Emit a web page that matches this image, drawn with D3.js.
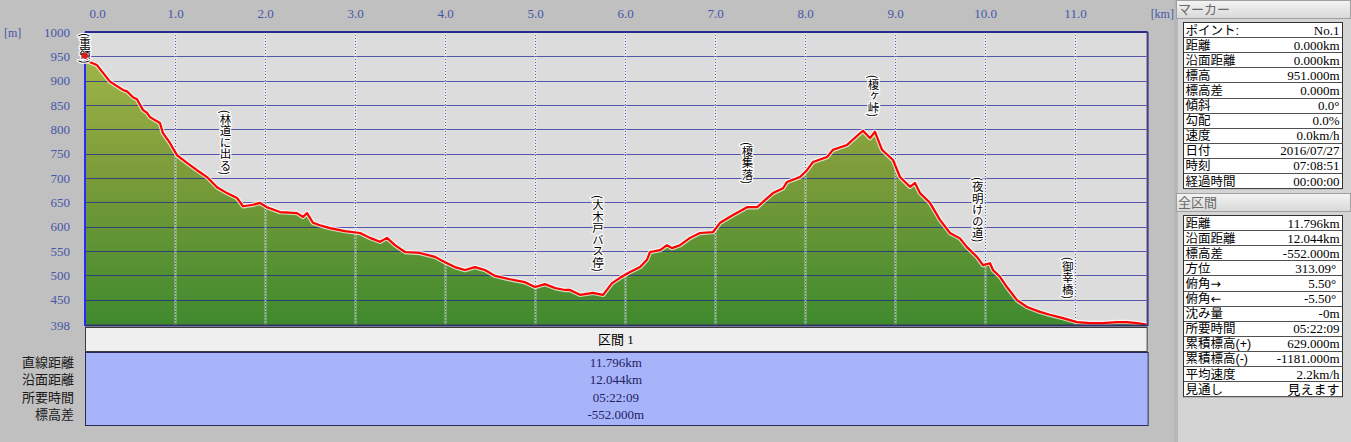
<!DOCTYPE html>
<html><head><meta charset="utf-8">
<script src="https://cdn.jsdelivr.net/npm/d3@7"></script>
<style>
html,body{margin:0;padding:0;background:#c0c0c0;overflow:hidden;}
svg{display:block;}
</style></head><body>
<svg id="c" width="1351" height="442"></svg>
<script>
// ---------------- data ----------------
const distKm = [0.000,0.033,0.133,0.278,0.422,0.467,0.533,0.578,0.644,0.689,0.722,0.833,0.867,0.944,1.022,1.133,1.244,1.356,1.467,1.578,1.689,1.756,1.867,1.944,2.022,2.167,2.356,2.422,2.467,2.533,2.611,2.722,2.889,3.056,3.167,3.278,3.356,3.444,3.556,3.722,3.889,4.000,4.111,4.222,4.333,4.444,4.556,4.722,4.889,5.000,5.111,5.222,5.333,5.389,5.500,5.644,5.756,5.856,5.944,6.056,6.167,6.244,6.278,6.389,6.467,6.522,6.611,6.722,6.833,6.978,7.056,7.200,7.356,7.467,7.533,7.644,7.756,7.800,7.944,8.022,8.089,8.244,8.311,8.467,8.611,8.644,8.722,8.778,8.856,8.978,9.056,9.167,9.222,9.278,9.389,9.500,9.611,9.722,9.800,9.911,9.978,10.056,10.089,10.167,10.244,10.356,10.467,10.611,10.722,10.867,11.022,11.167,11.311,11.467,11.578,11.689,11.796];
const elevM  = [951,940,932,898,881,878,866,862,840,834,825,813,792,772,747,731,716,702,681,669,659,642,645,649,640,630,628,620,628,608,603,597,591,587,577,569,577,562,548,546,538,527,517,511,517,511,499,492,486,476,482,474,470,470,460,464,460,484,495,507,517,532,548,552,562,556,562,577,587,589,608,624,640,640,651,669,679,692,702,716,733,743,758,768,792,797,782,795,758,737,702,682,690,669,649,614,587,576,558,538,521,525,511,497,476,449,435,425,419,412,404,402,402,404,404,402,399];

const xTicks = [0,1,2,3,4,5,6,7,8,9,10,11];
const yTicks = [398,450,500,550,600,650,700,750,800,850,900,950,1000];
const xDomain = [0, 11.796];
const yDomain = [398, 1000];

const landmarkNames = ["(重嶺)","(林道に出る)","(大木戸バス停)","(榎集落)","(榎ヶ峠)","(夜明けの道)","(御幸橋)"];
const landmarkKm    = [0.0, 1.56, 5.70, 7.36, 8.76, 9.92, 10.92];
const landmarkTopM  = [998, 840, 665, 774, 912, 702, 538];

const markerKm = [0.0];
const markerElev = [951];

const sectionTitle = "区間 1";
const summaryLabels = ["直線距離","沿面距離","所要時間","標高差"];
const summaryValues = ["11.796km","12.044km","05:22:09","-552.000m"];

const markerTitle = "マーカー";
const markerLabels = ["ポイント:","距離","沿面距離","標高","標高差","傾斜","勾配","速度","日付","時刻","経過時間"];
const markerValues = ["No.1","0.000km","0.000km","951.000m","0.000m","0.0°","0.0%","0.0km/h","2016/07/27","07:08:51","00:00:00"];

const totalTitle = "全区間";
const totalLabels = ["距離","沿面距離","標高差","方位","俯角→","俯角←","沈み量","所要時間","累積標高(+)","累積標高(-)","平均速度","見通し"];
const totalValues = ["11.796km","12.044km","-552.000m","313.09° ","5.50° ","-5.50° ","-0m","05:22:09","629.000m","-1181.000m","2.2km/h","見えます"];

// ---------------- layout ----------------
const svg = d3.select("#c");
const L = 85, R = 85 + 90*11.796, T = 32, B = 325;
const x = d3.scaleLinear().domain(xDomain).range([L, R]);
const y = d3.scaleLinear().domain(yDomain).range([B, T]);
const serif = '"Liberation Serif","Noto Sans CJK JP",serif';
const gothic = '"Liberation Sans","Noto Sans CJK JP",sans-serif';
const cjk = '"Noto Sans CJK JP",sans-serif';

svg.append("rect").attr("width",1351).attr("height",442).attr("fill","#c0c0c0");

const defs = svg.append("defs");
const g1 = defs.append("linearGradient").attr("id","fillG").attr("gradientUnits","userSpaceOnUse")
  .attr("x1",0).attr("x2",0).attr("y1",y(1000)).attr("y2",y(398));
g1.append("stop").attr("offset","0%").attr("stop-color","#a6bb4c");
g1.append("stop").attr("offset","45%").attr("stop-color","#7f9d3a");
g1.append("stop").attr("offset","100%").attr("stop-color","#3f8a2e");
const g2 = defs.append("linearGradient").attr("id","hdrG").attr("x1",0).attr("x2",0).attr("y1",0).attr("y2",1);
g2.append("stop").attr("offset","0%").attr("stop-color","#f4f4f4");
g2.append("stop").attr("offset","100%").attr("stop-color","#d8d8d8");
defs.append("clipPath").attr("id","plotClip").append("rect")
  .attr("x",L).attr("y",T).attr("width",R-L).attr("height",B-T);

// plot background
svg.append("rect").attr("x",L).attr("y",T).attr("width",R-L).attr("height",B-T).attr("fill","#dcdcdc");

const plot = svg.append("g").attr("clip-path","url(#plotClip)");
const pts = distKm.map((d,i)=>[d, elevM[i]]);
plot.append("path").datum(pts)
  .attr("d", d3.area().x(d=>x(d[0])).y0(y(398)).y1(d=>y(d[1])))
  .attr("fill","url(#fillG)");

// grid lines
plot.selectAll(".hg").data(yTicks.filter(v=>v>398 && v<1000)).join("line")
  .attr("x1",L).attr("x2",R).attr("y1",d=>Math.round(y(d))+0.5).attr("y2",d=>Math.round(y(d))+0.5)
  .attr("stroke","#1c1c96").attr("stroke-opacity",0.7).attr("stroke-width",1);
plot.selectAll(".vg").data(xTicks.filter(v=>v>0)).join("line")
  .attr("x1",d=>Math.round(x(d))+0.5).attr("x2",d=>Math.round(x(d))+0.5).attr("y1",T).attr("y2",B)
  .attr("stroke","#ffffff").attr("stroke-opacity",0.45).attr("stroke-width",2);
plot.selectAll(".vg2").data(xTicks.filter(v=>v>0)).join("line")
  .attr("x1",d=>Math.round(x(d))+0.5).attr("x2",d=>Math.round(x(d))+0.5).attr("y1",T).attr("y2",B)
  .attr("stroke","#5a5aa8").attr("stroke-dasharray","1,2").attr("stroke-width",1);

// profile line
const line = d3.line().x(d=>x(d[0])).y(d=>y(d[1]));
plot.append("path").datum(pts).attr("d",line).attr("fill","none")
  .attr("stroke","#ffffff").attr("stroke-opacity",0.7).attr("stroke-width",4.5).attr("stroke-linejoin","round");
plot.append("path").datum(pts).attr("d",line).attr("fill","none")
  .attr("stroke","#ff0000").attr("stroke-width",2.2).attr("stroke-linejoin","round");

// borders
svg.append("line").attr("x1",L).attr("x2",R+1).attr("y1",T).attr("y2",T).attr("stroke","#2a2a8a").attr("stroke-width",2);
svg.append("line").attr("x1",R+1).attr("x2",R+1).attr("y1",T).attr("y2",B+1).attr("stroke","#4a3a8a").attr("stroke-width",2);
svg.append("line").attr("x1",L).attr("x2",R+1).attr("y1",B+0.5).attr("y2",B+0.5).attr("stroke","#30306a").attr("stroke-width",2);
svg.append("line").attr("x1",L).attr("x2",L).attr("y1",T).attr("y2",B+1).attr("stroke","#2a2aff").attr("stroke-width",2);

// landmark labels (vertical)
svg.selectAll(".lm").data(landmarkNames).join("text")
  .attr("x",(d,i)=>x(landmarkKm[i])).attr("y",(d,i)=>y(landmarkTopM[i]))
  .attr("style","writing-mode:vertical-rl;")
  .attr("font-family",cjk).attr("font-size",11.5).attr("fill","#000")
  .attr("stroke","#ffffff").attr("stroke-width",2.5).attr("paint-order","stroke")
  .attr("stroke-linejoin","round")
  .text(d=>d);

// marker
svg.selectAll(".mk").data(markerKm).join("circle")
  .attr("cx",d=>x(d)).attr("cy",(d,i)=>y(markerElev[i])).attr("r",3).attr("fill","#e01818");

// axes
const axTop = svg.append("g").attr("transform",`translate(0,${T-10})`)
  .call(d3.axisTop(x).tickValues(xTicks).tickSize(0).tickFormat(d3.format(".1f")));
axTop.select(".domain").remove();
axTop.selectAll("text").attr("font-family",serif).attr("font-size",13).attr("fill","#4656a8")
  .attr("dy","-0.1em")
  .filter(d=>d===0).attr("text-anchor","start").attr("dx",4);
const axLeft = svg.append("g").attr("transform",`translate(${L-10},0)`)
  .call(d3.axisLeft(y).tickValues(yTicks).tickSize(0).tickFormat(d3.format("d")));
axLeft.select(".domain").remove();
axLeft.selectAll("text").attr("font-family",serif).attr("font-size",13).attr("fill","#4656a8").attr("dx",-2);
svg.append("text").attr("x",4).attr("y",T+5).attr("font-family",serif).attr("font-size",12).attr("fill","#4656a8").text("[m]");
svg.append("text").attr("x",R+4).attr("y",T-14).attr("font-family",serif).attr("font-size",12).attr("fill","#4656a8").text("[km]");

// section header & summary table
svg.append("rect").attr("x",L+0.5).attr("y",327.5).attr("width",R-L).attr("height",24).attr("fill","#efefef").attr("stroke","#3a3a3a");
svg.append("text").attr("x",(L+R)/2).attr("y",344).attr("text-anchor","middle")
  .attr("font-family",serif).attr("font-size",13).attr("fill","#000").text(sectionTitle);
svg.append("rect").attr("x",L+0.5).attr("y",352.5).attr("width",R-L+1).attr("height",73).attr("fill","#a8b4fa").attr("stroke","#2a2a5a");
const rowY = d3.scalePoint().domain(d3.range(summaryLabels.length)).range([367, 419]);
svg.selectAll(".sl").data(summaryLabels).join("text")
  .attr("x",74).attr("y",(d,i)=>rowY(i)).attr("text-anchor","end")
  .attr("font-family",gothic).attr("font-size",13).attr("fill","#1a1a1a").text(d=>d);
svg.selectAll(".sv").data(summaryValues).join("text")
  .attr("x",(L+R)/2).attr("y",(d,i)=>rowY(i)).attr("text-anchor","middle")
  .attr("font-family",serif).attr("font-size",13).attr("fill","#1e2260").text(d=>d);

// right panel
const PX = 1174;
svg.append("rect").attr("x",PX).attr("y",0).attr("width",1351-PX).attr("height",442).attr("fill","#d4d4d4");
svg.append("rect").attr("x",PX).attr("y",0).attr("width",4).attr("height",442).attr("fill","#b8b8b8");
function panel(title, labels, values, top){
  svg.append("rect").attr("x",PX+2.5).attr("y",top+0.5).attr("width",1351-PX-3).attr("height",18)
    .attr("fill","url(#hdrG)").attr("stroke","#a0a0a0");
  svg.append("text").attr("x",PX+4).attr("y",top+14).attr("font-family",gothic).attr("font-size",13)
    .attr("fill","#6a6a6a").text(title);
  const t0 = top+22, rh = 15.1;
  const ry = d3.scaleLinear().domain([0, labels.length]).range([t0, t0 + rh*labels.length]);
  const gx = 1183.5, gw = 159;
  svg.append("rect").attr("x",gx).attr("y",ry(0)+0.5).attr("width",gw).attr("height",ry(labels.length)-ry(0))
    .attr("fill","#ffffff").attr("stroke","#303030");
  svg.selectAll(null).data(d3.range(1,labels.length)).join("line")
    .attr("x1",gx).attr("x2",gx+gw).attr("y1",d=>Math.round(ry(d))+0.5).attr("y2",d=>Math.round(ry(d))+0.5)
    .attr("stroke","#505050").attr("stroke-width",1);
  const lt = svg.selectAll(null).data(labels).join("text")
    .attr("x",gx+2).attr("y",(d,i)=>ry(i)+12.5).attr("font-family",gothic).attr("font-size",12.5)
    .attr("fill","#000");
  lt.each(function(d){
    const parts = d.split(/([→←])/).filter(s=>s.length);
    const t = d3.select(this);
    parts.forEach(p=>{
      const ts = t.append("tspan").text(p);
      if (p==="→"||p==="←") ts.attr("font-family",'"DejaVu Sans",sans-serif');
    });
  });
  svg.selectAll(null).data(values).join("text")
    .attr("x",gx+gw-3).attr("y",(d,i)=>ry(i)+12.5).attr("text-anchor","end")
    .attr("font-family",serif).attr("font-size",13).attr("fill","#000")
    .attr("xml:space","preserve").style("white-space","pre").text(d=>d);
}
panel(markerTitle, markerLabels, markerValues, 0);
panel(totalTitle, totalLabels, totalValues, 193);
</script>
</body></html>
